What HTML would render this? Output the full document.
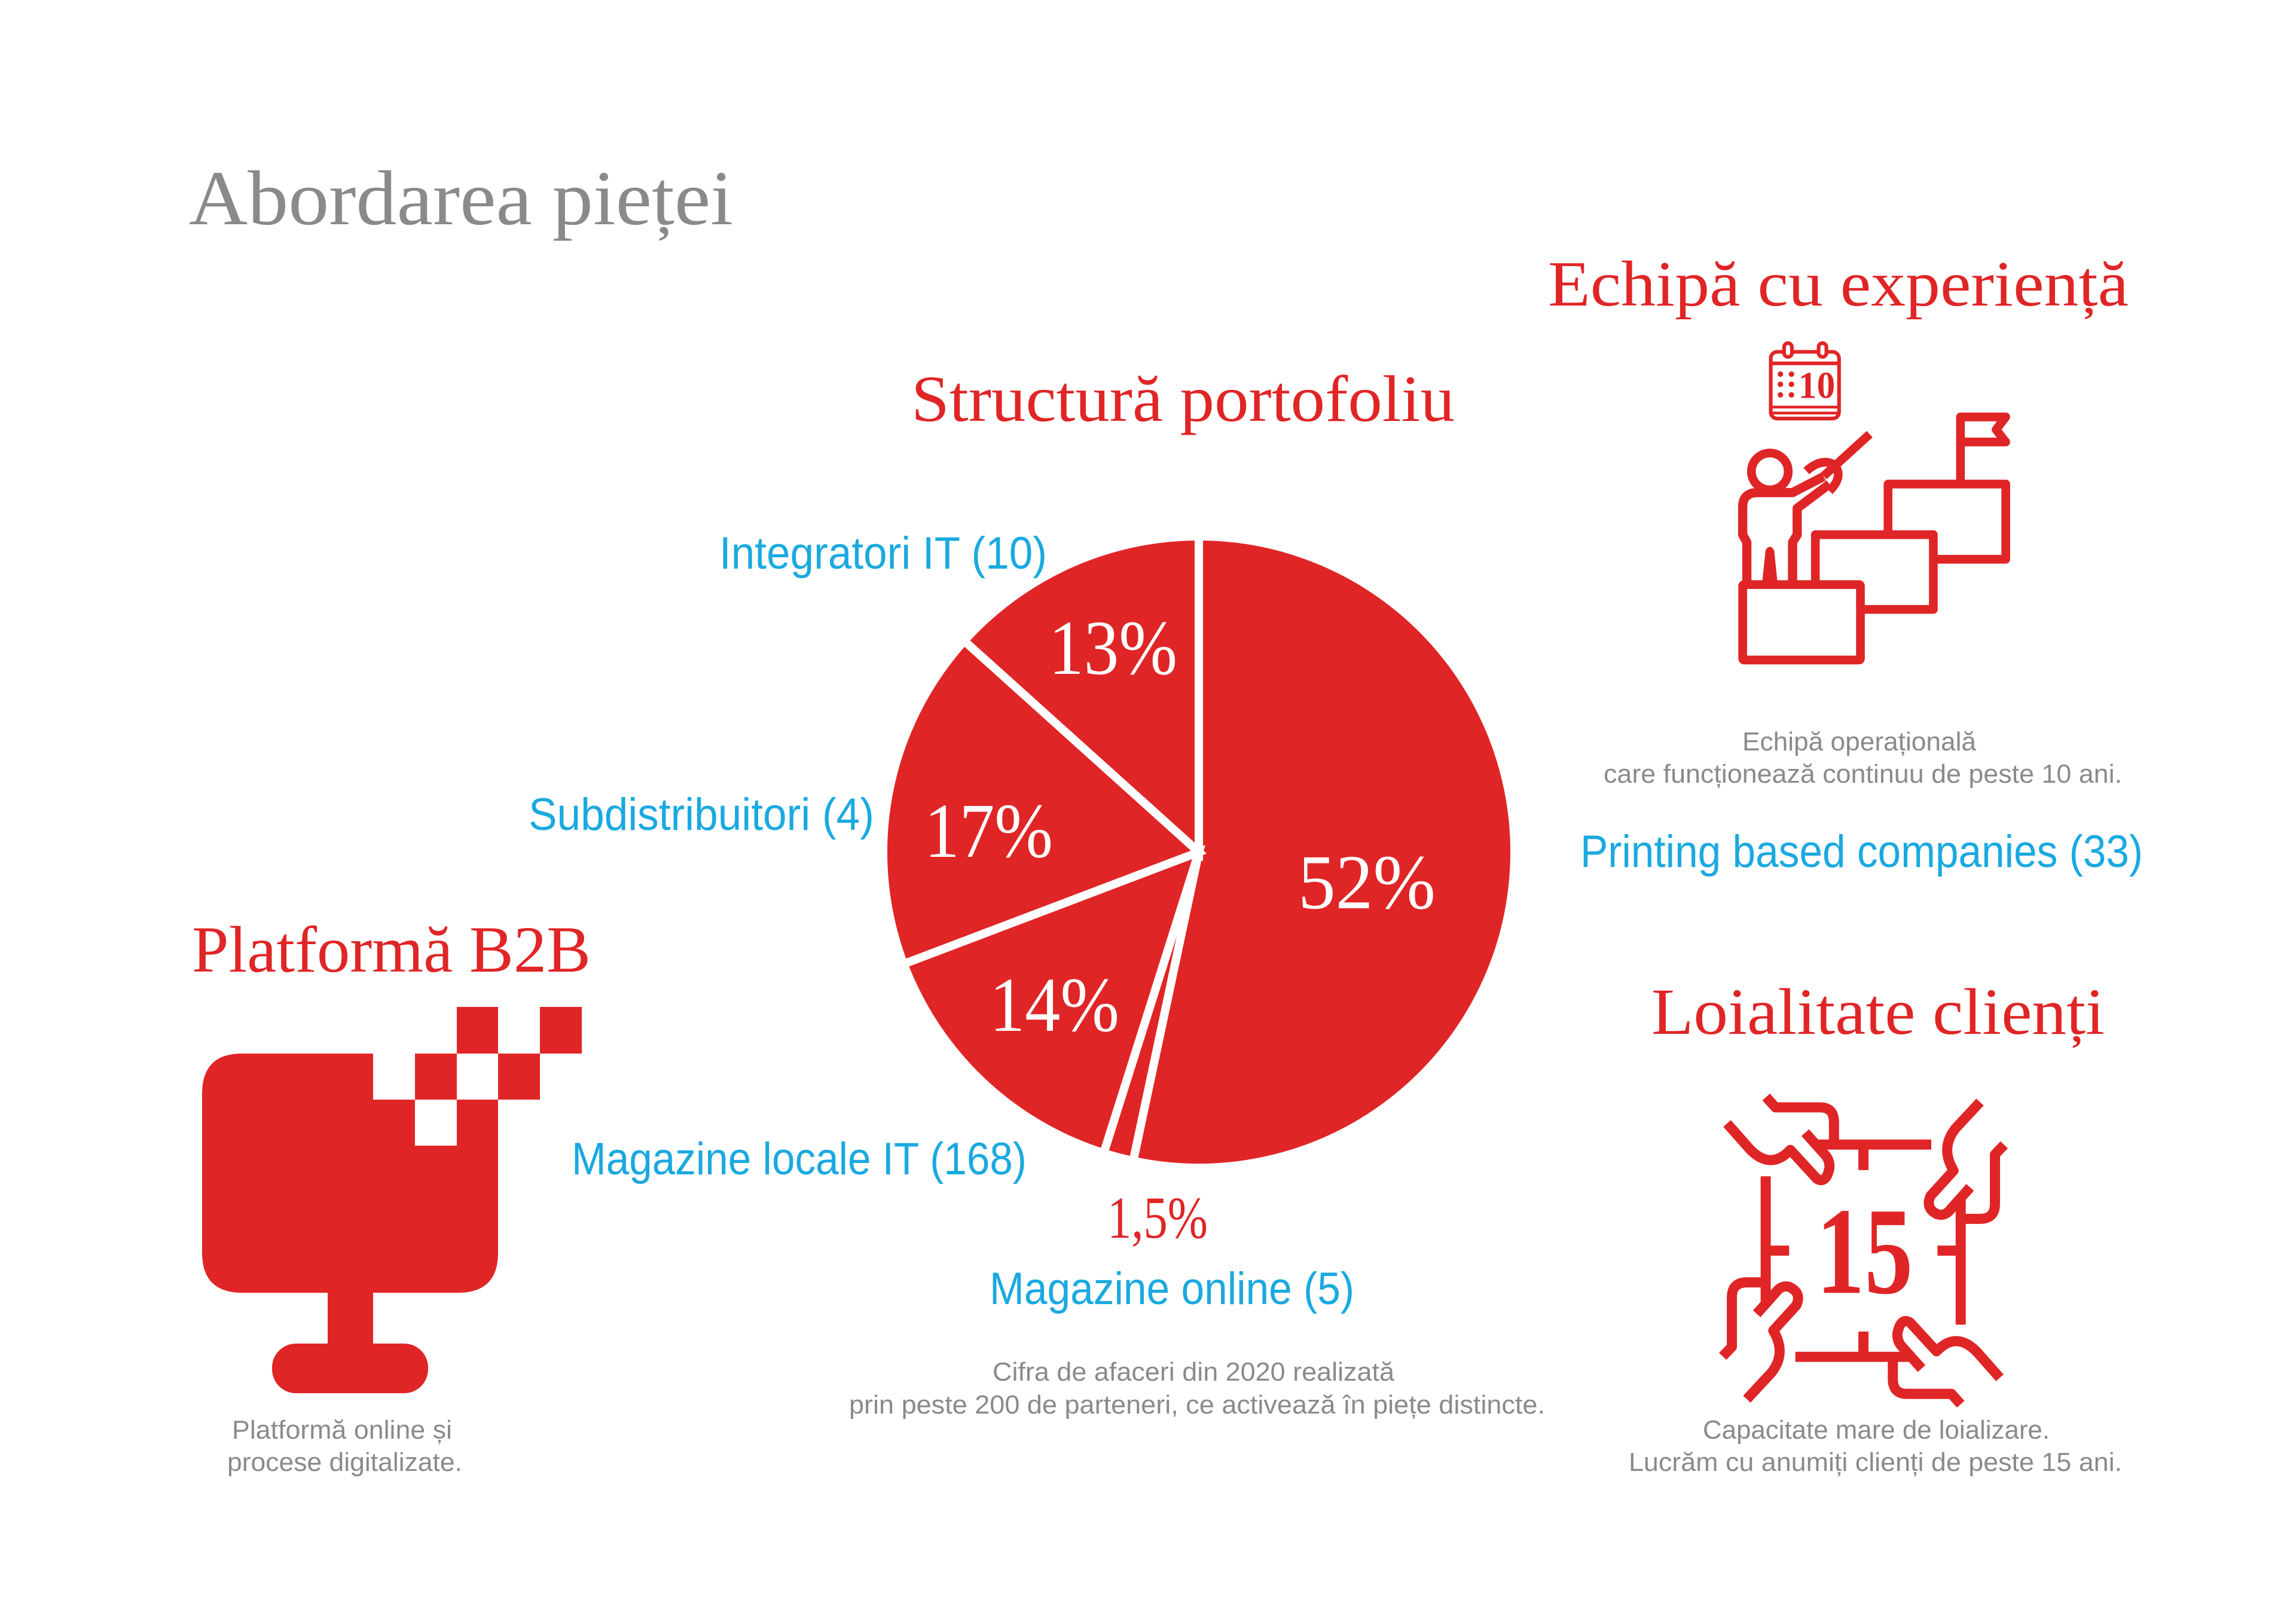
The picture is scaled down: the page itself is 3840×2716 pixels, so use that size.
<!DOCTYPE html>
<html><head><meta charset="utf-8"><style>
html,body{margin:0;padding:0;background:#fff;}
svg{display:block}
.serif{font-family:"Liberation Serif",serif}
.sans{font-family:"Liberation Sans",sans-serif}
</style></head><body>
<svg id="page" width="3840" height="2716" viewBox="0 0 3840 2716" xmlns="http://www.w3.org/2000/svg">
<rect width="3840" height="2716" fill="#fff"/>
<text class="serif" x="316" y="375" font-size="130" fill="#8a8a8c" textLength="910" lengthAdjust="spacingAndGlyphs">Abordarea pieței</text>
<text class="serif" x="1524" y="704" font-size="110" fill="#e02526" textLength="909" lengthAdjust="spacingAndGlyphs">Structură portofoliu</text>
<text class="serif" x="2589" y="511" font-size="108" fill="#e02526" textLength="971" lengthAdjust="spacingAndGlyphs">Echipă cu experiență</text>
<text class="serif" x="321" y="1625" font-size="110" fill="#e02526" textLength="667" lengthAdjust="spacingAndGlyphs">Platformă B2B</text>
<text class="serif" x="2762" y="1729" font-size="110" fill="#e02526" textLength="758" lengthAdjust="spacingAndGlyphs">Loialitate clienți</text>

<g id="pie"></g>

<g class="serif">
<text x="1754" y="1127" font-size="130" fill="#fff" textLength="215" lengthAdjust="spacingAndGlyphs">13%</text>
<text x="1546" y="1433" font-size="130" fill="#fff" textLength="215" lengthAdjust="spacingAndGlyphs">17%</text>
<text x="1655" y="1724" font-size="130" fill="#fff" textLength="217" lengthAdjust="spacingAndGlyphs">14%</text>
<text x="2171" y="1519" font-size="130" fill="#fff" textLength="230" lengthAdjust="spacingAndGlyphs">52%</text>
<text x="1852" y="2070" font-size="100" fill="#e02526" textLength="168" lengthAdjust="spacingAndGlyphs">1,5%</text>
</g>

<g class="sans" font-size="76" fill="#1aa9e0">
<text x="1203" y="951" textLength="548" lengthAdjust="spacingAndGlyphs">Integratori IT (10)</text>
<text x="884" y="1388" textLength="578" lengthAdjust="spacingAndGlyphs">Subdistribuitori (4)</text>
<text x="956" y="1964" textLength="761" lengthAdjust="spacingAndGlyphs">Magazine locale IT (168)</text>
<text x="1655" y="2181" textLength="610" lengthAdjust="spacingAndGlyphs">Magazine online (5)</text>
<text x="2643" y="1450" textLength="941" lengthAdjust="spacingAndGlyphs">Printing based companies (33)</text>
</g>

<g class="sans" font-size="44" fill="#8a8a8c">
<text x="2914" y="1255" textLength="391" lengthAdjust="spacingAndGlyphs">Echipă operațională</text>
<text x="2682" y="1309" textLength="867" lengthAdjust="spacingAndGlyphs">care funcționează continuu de peste 10 ani.</text>
<text x="1660" y="2309" textLength="672" lengthAdjust="spacingAndGlyphs">Cifra de afaceri din 2020 realizată</text>
<text x="1420" y="2364" textLength="1164" lengthAdjust="spacingAndGlyphs">prin peste 200 de parteneri, ce activează în piețe distincte.</text>
<text x="388" y="2406" textLength="368" lengthAdjust="spacingAndGlyphs">Platformă online și</text>
<text x="380" y="2460" textLength="393" lengthAdjust="spacingAndGlyphs">procese digitalizate.</text>
<text x="2848" y="2406" textLength="580" lengthAdjust="spacingAndGlyphs">Capacitate mare de loializare.</text>
<text x="2724" y="2460" textLength="825" lengthAdjust="spacingAndGlyphs">Lucrăm cu anumiți clienți de peste 15 ani.</text>
</g>

<!-- monitor icon -->
<g fill="#e02526">
<path d="M405,1762 H833 V2095 Q833,2162 766,2162 H405 Q338,2162 338,2095 V1829 Q338,1762 405,1762 Z"/>
<rect x="624" y="1762" width="70" height="77" fill="#fff"/>
<rect x="764" y="1762" width="69" height="77" fill="#fff"/>
<rect x="694" y="1839" width="70" height="77" fill="#fff"/>
<rect x="764" y="1684" width="69" height="78"/>
<rect x="903" y="1684" width="70" height="78"/>
<rect x="833" y="1762" width="70" height="77"/>
<rect x="548" y="2160" width="76" height="90"/>
<rect x="455" y="2247" width="261" height="83" rx="40"/>
</g>

<!-- team icon -->
<g transform="translate(2850,550) scale(0.3846)" fill="none" stroke="#e02526" stroke-width="38" stroke-linejoin="round">
<rect x="290" y="100" width="297" height="290" rx="28" stroke-width="16"/>
<line x1="290" y1="150" x2="587" y2="150" stroke-width="16"/>
<line x1="298" y1="340" x2="580" y2="340" stroke-width="12"/>
<line x1="298" y1="366" x2="580" y2="366" stroke-width="12"/>
<rect x="348" y="62" width="34" height="60" rx="17" stroke-width="16" fill="#fff"/>
<rect x="498" y="62" width="34" height="60" rx="17" stroke-width="16" fill="#fff"/>
<g fill="#e02526" stroke="none">
<circle cx="332" cy="197" r="12"/><circle cx="380" cy="197" r="12"/>
<circle cx="332" cy="241" r="12"/><circle cx="380" cy="241" r="12"/>
<circle cx="332" cy="287" r="12"/><circle cx="380" cy="287" r="12"/>
<text class="serif" x="410" y="300" font-size="165" font-weight="bold" textLength="160" lengthAdjust="spacingAndGlyphs">10</text>
</g>
<circle cx="286" cy="620" r="80"/>
<path d="M186,1100 V928 L168,895 V775 Q168,712 232,712 H385 L520,642" stroke-width="40"/>
<path d="M385,1100 V928 L405,895 V780 L545,675" stroke-width="40"/>
<line x1="520" y1="640" x2="720" y2="458"/>
<path d="M445,618 Q510,560 565,590 Q610,640 545,705"/>
<path d="M258,1100 L272,965 Q286,940 300,965 L314,1100 Z" fill="#e02526" stroke-width="10"/>
<rect x="168" y="1112" width="512" height="328" rx="6"/>
<path d="M484,1112 V895 H997 V1220 H680"/>
<path d="M800,895 V675 H1312 V1002 H997"/>
<path d="M1115,675 V383 H1312 L1270,438 L1312,492 H1115"/>
</g>

<!-- loyalty icon -->
<g transform="translate(2850,1800) scale(0.3846)" fill="none" stroke="#e02526" stroke-width="44" stroke-linejoin="round">
<line x1="490" y1="297" x2="988" y2="297"/>
<line x1="693" y1="297" x2="693" y2="408"/>
<line x1="268" y1="435" x2="268" y2="985"/>
<line x1="268" y1="758" x2="370" y2="758"/>
<line x1="1116" y1="540" x2="1116" y2="1080"/>
<line x1="1015" y1="758" x2="1116" y2="758"/>
<line x1="397" y1="1220" x2="895" y2="1220"/>
<line x1="693" y1="1110" x2="693" y2="1220"/>
<g>
<path d="M270,90 L310,135 H505 Q565,135 565,200 V297"/>
<path d="M100,205 L200,318 Q290,410 375,320 L490,445 Q530,470 545,400 Q548,365 525,340 L440,245"/>
</g>
<g transform="rotate(180 693 758)">
<path d="M270,90 L310,135 H505 Q565,135 565,200 V297"/>
<path d="M100,205 L200,318 Q290,410 375,320 L490,445 Q530,470 545,400 Q548,365 525,340 L440,245"/>
</g>
<g>
<path d="M1305,298 L1265,340 V555 Q1265,620 1200,620 H1116"/>
<path d="M1200,112 L1095,225 Q1025,310 1085,410 L985,520 Q960,575 1015,600 Q1050,610 1075,575 L1157,483"/>
</g>
<g transform="rotate(180 693 758)">
<path d="M1305,298 L1265,340 V555 Q1265,620 1200,620 H1116"/>
<path d="M1200,112 L1095,225 Q1025,310 1085,410 L985,520 Q960,575 1015,600 Q1050,610 1075,575 L1157,483"/>
</g>
<text class="serif" x="488" y="942" font-size="540" font-weight="bold" fill="#e02526" stroke="none" textLength="420" lengthAdjust="spacingAndGlyphs">15</text>
</g>
</svg>
<script>
const categories = ["Printing based companies", "Magazine online", "Magazine locale IT", "Subdistribuitori", "Integratori IT"];
const shares = [52, 1.5, 14, 17, 13];
const pieCx = 2005, pieCy = 1425, pieR = 528;
(function(){
  const g = document.getElementById('pie');
  const NS = 'http://www.w3.org/2000/svg';
  const total = shares.reduce((a,b)=>a+b,0);
  let a0 = 0;
  function pt(a){ const r = a*Math.PI/180; return [pieCx + pieR*Math.sin(r), pieCy - pieR*Math.cos(r)]; }
  shares.forEach((v,i)=>{
    const a1 = a0 + v/total*360;
    const p0 = pt(a0), p1 = pt(a1);
    const large = (a1-a0) > 180 ? 1 : 0;
    const path = document.createElementNS(NS,'path');
    path.setAttribute('d', `M${pieCx},${pieCy} L${p0[0]},${p0[1]} A${pieR},${pieR} 0 ${large} 1 ${p1[0]},${p1[1]} Z`);
    path.setAttribute('fill','#e02526');
    path.setAttribute('stroke','#fff');
    path.setAttribute('stroke-width','14');
    path.setAttribute('stroke-linejoin','miter');
    
    
    path.setAttribute('data-category', categories[i]);
    g.appendChild(path);
    a0 = a1;
  });
})();
</script>
</body></html>
